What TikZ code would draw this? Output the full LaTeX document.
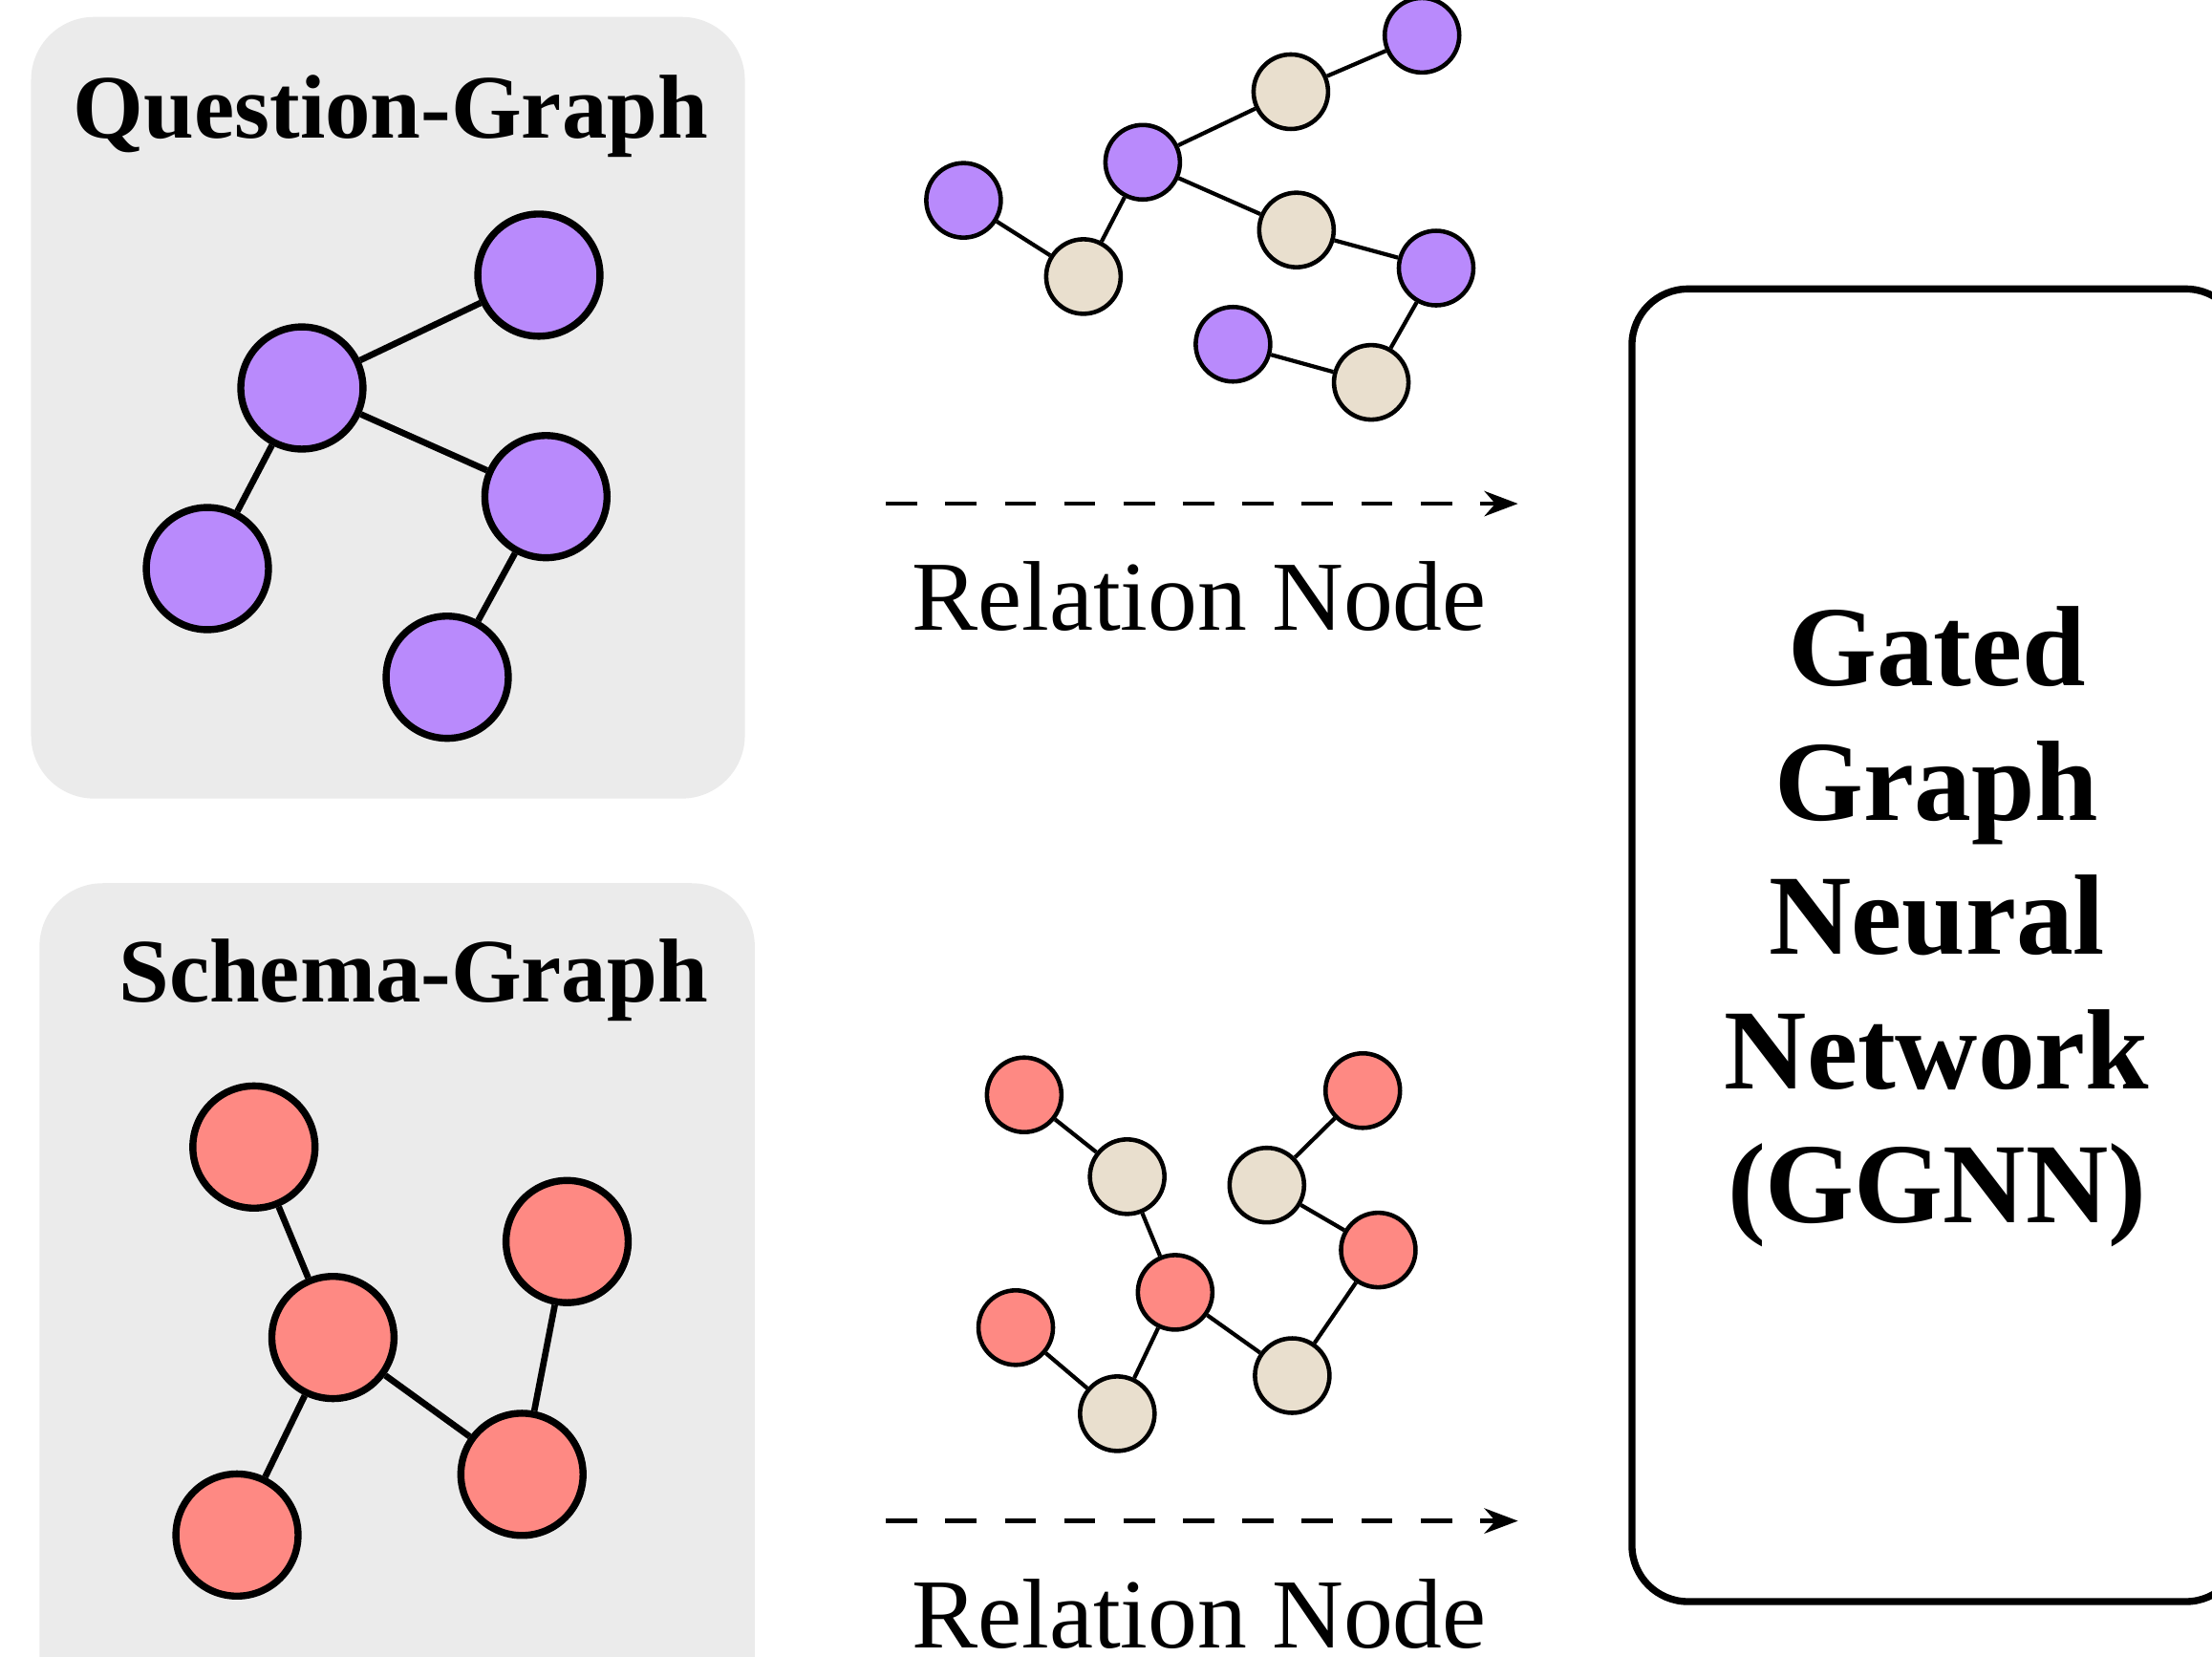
\documentclass[tikz,border=0pt]{standalone}
\usepackage{fontspec}
\setmainfont{Liberation Serif}
\usetikzlibrary{arrows.meta}
\definecolor{questionPurple}{HTML}{B98AFC}
\definecolor{schemaRed}{HTML}{FE8983}
\definecolor{relationTan}{HTML}{E9DFCE}
\definecolor{panelGray}{HTML}{EBEBEB}

\begin{document}
\begin{tikzpicture}[x=0.014764cm, y=-0.014764cm,
    panel/.style={fill=panelGray, rounded corners=18.8pt},
    paneltitle/.style={anchor=base, inner sep=0pt, font=\fontsize{27}{32}\selectfont\bfseries},
    bignode/.style={circle, draw, line width=2.1pt, minimum size=36.4pt, inner sep=0pt},
    smallnode/.style={circle, draw, line width=1.3pt, minimum size=22.2pt, inner sep=0pt},
    bigedge/.style={line width=1.9pt},
    smalledge/.style={line width=1.2pt},
    relarrow/.style={line width=1.2pt, dash pattern=on 9.3pt off 8.4pt, -{Stealth[length=10pt, width=7.5pt]}},
    rellabel/.style={anchor=base, inner sep=0pt, font=\fontsize{29.5}{34}\selectfont}]
    \useasboundingbox (0,0) rectangle (1568,1174);
    \clip (0,0) rectangle (1568,1174);

    % question graph
    \fill[panel] (22,12) rectangle (528,566);
    \node[paneltitle] (qtitle) at (277,98) {Question-Graph};
    \node[bignode, fill=questionPurple] (qa) at (382,195) {};
    \node[bignode, fill=questionPurple] (qb) at (214,275) {};
    \node[bignode, fill=questionPurple] (qc) at (387,352) {};
    \node[bignode, fill=questionPurple] (qd) at (147,403) {};
    \node[bignode, fill=questionPurple] (qe) at (317,480) {};
    \draw[bigedge] (qb) -- (qa);
    \draw[bigedge] (qb) -- (qc);
    \draw[bigedge] (qb) -- (qd);
    \draw[bigedge] (qc) -- (qe);

    % schema graph
    \fill[panel] (28,626) rectangle (535,1230);
    \node[paneltitle] (stitle) at (293,710) {Schema-Graph};
    \node[bignode, fill=schemaRed] (sa) at (180,813) {};
    \node[bignode, fill=schemaRed] (sb) at (236,948) {};
    \node[bignode, fill=schemaRed] (sc) at (402,880) {};
    \node[bignode, fill=schemaRed] (sd) at (370,1045) {};
    \node[bignode, fill=schemaRed] (se) at (168,1088) {};
    \draw[bigedge] (sa) -- (sb);
    \draw[bigedge] (sb) -- (sd);
    \draw[bigedge] (sc) -- (sd);
    \draw[bigedge] (sb) -- (se);

    % question graph with relation nodes
    \node[smallnode, fill=questionPurple] (qp1) at (683,142) {};
    \node[smallnode, fill=relationTan] (qt1) at (768,196) {};
    \node[smallnode, fill=questionPurple] (qp2) at (810,115) {};
    \node[smallnode, fill=relationTan] (qt2) at (915,65) {};
    \node[smallnode, fill=questionPurple] (qp3) at (1008,25) {};
    \node[smallnode, fill=relationTan] (qt3) at (919,163) {};
    \node[smallnode, fill=questionPurple] (qp4) at (1018,190) {};
    \node[smallnode, fill=questionPurple] (qp5) at (874,244) {};
    \node[smallnode, fill=relationTan] (qt4) at (972,271) {};
    \draw[smalledge] (qp1) -- (qt1);
    \draw[smalledge] (qt1) -- (qp2);
    \draw[smalledge] (qp2) -- (qt2);
    \draw[smalledge] (qt2) -- (qp3);
    \draw[smalledge] (qp2) -- (qt3);
    \draw[smalledge] (qt3) -- (qp4);
    \draw[smalledge] (qp4) -- (qt4);
    \draw[smalledge] (qt4) -- (qp5);

    % schema graph with relation nodes
    \node[smallnode, fill=schemaRed] (sr1) at (726,776) {};
    \node[smallnode, fill=relationTan] (st1) at (799,834) {};
    \node[smallnode, fill=schemaRed] (sr2) at (966,773) {};
    \node[smallnode, fill=relationTan] (st2) at (898,840) {};
    \node[smallnode, fill=schemaRed] (sr3) at (977,886) {};
    \node[smallnode, fill=schemaRed] (sr4) at (833,916) {};
    \node[smallnode, fill=schemaRed] (sr5) at (720,941) {};
    \node[smallnode, fill=relationTan] (st3) at (916,975) {};
    \node[smallnode, fill=relationTan] (st4) at (792,1002) {};
    \draw[smalledge] (sr1) -- (st1);
    \draw[smalledge] (st1) -- (sr4);
    \draw[smalledge] (sr2) -- (st2);
    \draw[smalledge] (st2) -- (sr3);
    \draw[smalledge] (sr3) -- (st3);
    \draw[smalledge] (sr4) -- (st3);
    \draw[smalledge] (sr4) -- (st4);
    \draw[smalledge] (sr5) -- (st4);

    % arrows
    \coordinate (qarrowstart) at (628,357);
    \coordinate (qarrowend) at (1076,357);
    \draw[relarrow] (qarrowstart) -- (qarrowend);
    \node[rellabel] (qrel) at (850,447) {Relation Node};
    \coordinate (sarrowstart) at (628,1078);
    \coordinate (sarrowend) at (1076,1078);
    \draw[relarrow] (sarrowstart) -- (sarrowend);
    \node[rellabel] (srel) at (850,1168) {Relation Node};

    % ggnn
    \node[draw, line width=2.1pt, rounded corners=16.7pt, minimum width=181.7pt,
          minimum height=391pt, inner sep=0pt] (ggnn) at (1373,670) {};
    \node[align=center, inner sep=0pt, font=\fontsize{34}{40}\selectfont\bfseries]
      (ggnntext) at (1373,657) {Gated\\Graph\\Neural\\Network\\(GGNN)};
  \end{tikzpicture}
\end{document}
